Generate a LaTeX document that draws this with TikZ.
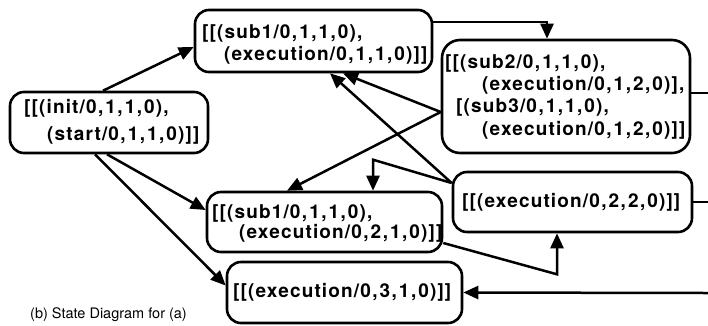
\documentclass[tikz,border=0pt]{standalone}
\usepackage{fontspec}
\setmainfont{TeX Gyre Heros}
\newfontfamily\nodefont[LetterSpace=6]{TeX Gyre Heros}
\newcommand\cc{\kern1.5pt,\kern2pt}
\usetikzlibrary{arrows.meta,calc}
\tikzset{
  state/.style={draw, line width=2.6pt, rounded corners=14pt, inner sep=0pt},
  txt/.style={anchor=west, inner sep=0pt, font=\nodefont\bfseries\fontsize{19}{21}\selectfont},
  captxt/.style={anchor=west, inner sep=0pt, font=\fontsize{14.5}{16}\selectfont},
  conn/.style={line width=2.5pt, line join=miter},
  arr/.style={conn, -{Triangle[length=15pt,width=13pt]}}
}
\begin{document}
\begin{tikzpicture}[x=1pt,y=-1pt]
\useasboundingbox (0,0) rectangle (708,325);
% boxes
\node[state, minimum width=198pt, minimum height=61pt] (init) at (109,122.5) {};
\node[state, minimum width=237pt, minimum height=62pt] (s1top) at (313.5,41) {};
\node[state, minimum width=248pt, minimum height=113pt, rounded corners=18pt] (sub2) at (566,96.5) {};
\node[state, minimum width=239pt, minimum height=60pt] (e220) at (572.5,202) {};
\node[state, minimum width=235pt, minimum height=60pt] (s1mid) at (324.5,222) {};
\node[state, minimum width=235pt, minimum height=61pt] (e310) at (344.5,292.5) {};
% texts
\node[txt] (ti1) at (24,108) {[[(init/0\cc1\cc1\cc0),};
\node[txt] (ti2) at (47,135) {(start/0\cc1\cc1\cc0)]]};
\node[txt] (ta1) at (202,33) {[[(sub1/0\cc1\cc1\cc0),};
\node[txt] (ta2) at (224,55) {(execution/0\cc1\cc1\cc0)]]};
\node[txt] (tb1) at (445,63) {[[(sub2/0\cc1\cc1\cc0),};
\node[txt] (tb2) at (482,85) {(execution/0\cc1\cc2\cc0)],};
\node[txt] (tb3) at (456,107) {[(sub3/0\cc1\cc1\cc0),};
\node[txt] (tb4) at (482,130) {(execution/0\cc1\cc2\cc0)]]};
\node[txt] (tc1) at (462,202) {[[(execution/0\cc2\cc2\cc0)]]};
\node[txt] (td1) at (212,213) {[[(sub1/0\cc1\cc1\cc0),};
\node[txt] (td2) at (239,233) {(execution/0\cc2\cc1\cc0)]]};
\node[txt] (te1) at (233,292) {[[(execution/0\cc3\cc1\cc0)]]};
\node[captxt] (caption) at (30,315) {(b) State Diagram for (a)};
% free ends at the right edge
\coordinate (outA) at (708,93);
\coordinate (outB) at (708,202);
\coordinate (inC) at (708,293);
% connectors
\draw[arr] ($(init.north)+(-6,0)$) -- ($(s1top.west)+(0,6)$);
\draw[arr] ($(init.south)+(-2,0)$) -- ($(s1mid.west)+(0,-12)$);
\draw[arr] ($(init.south)+(-14,0)$) -- ($(e310.west)+(0,-7)$);
\draw[arr] ($(s1top.east)+(0,-19)$) -| ($(sub2.north)+(-19,0)$);
\draw[arr] ($(sub2.west)+(0,15.5)$) -- ($(s1top.south)+(29.5,0)$);
\draw[arr] ($(e220.west)+(0,-19)$) -- ($(s1top.south)+(16.5,0)$);
\draw[arr] ($(sub2.west)+(0,15.5)$) -- ($(s1mid.north)+(-37.5,0)$);
\draw[arr] ($(e220.west)+(0,-19)$) -- ($(s1mid.north)+(48.5,-31)$) -- ($(s1mid.north)+(48.5,0)$);
\draw[arr] ($(s1mid.east)+(0,21)$) -- ($(e220.south)+(-15.5,41)$) -- ($(e220.south)+(-15.5,0)$);
\draw[conn] ($(sub2.east)+(0,-3.5)$) -- (outA);
\draw[conn] (e220.east) -- (outB);
\draw[arr] (inC) -- (e310.east);
\end{tikzpicture}
\end{document}
